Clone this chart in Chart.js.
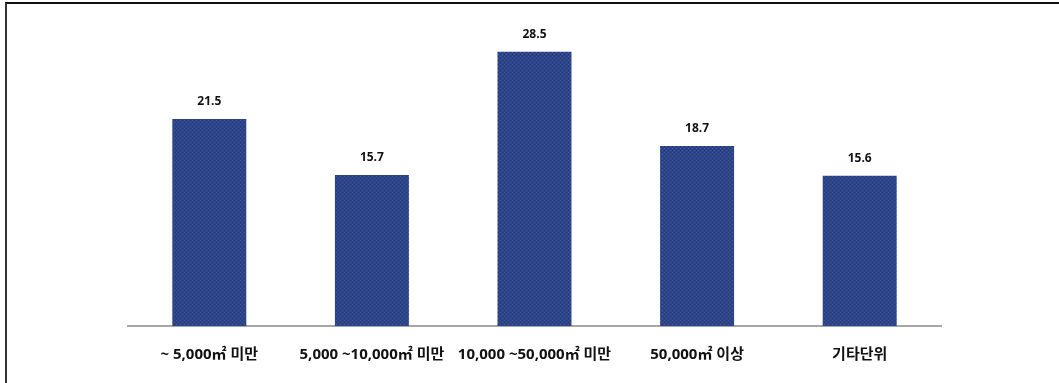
<!DOCTYPE html>
<html>
<head>
<meta charset="utf-8">
<script src="https://cdn.jsdelivr.net/npm/chart.js"></script>
<style>
  html, body { margin: 0; padding: 0; background: #fff; }
  body { width: 1059px; height: 383px; position: relative; overflow: hidden; }
  .frame {
    position: absolute; left: 5px; top: 2px; right: 0; bottom: 0;
    border-left: 2px solid #333; border-top: 2px solid #111;
  }
  #wrap { position: absolute; left: 0; top: 0; width: 1059px; height: 383px; }
</style>
</head>
<body>
<div class="frame"></div>
<div id="wrap"><canvas id="barChart" width="1059" height="383"></canvas></div>
<script>
// data
const categories = ['~ 5,000㎡ 미만', '5,000 ~10,000㎡ 미만', '10,000 ~50,000㎡ 미만', '50,000㎡ 이상', '기타단위'];
const shares = [21.5, 15.7, 28.5, 18.7, 15.6];

const FONT = "'Open Sans', 'Noto Sans CJK KR', sans-serif";

// small textured navy fill, like the original bars
function makePattern() {
    const c = document.createElement('canvas');
    c.width = 4; c.height = 4;
    const g = c.getContext('2d');
    g.fillStyle = '#2d4486';
    g.fillRect(0, 0, 4, 4);
    g.fillStyle = '#3b56a2';
    g.fillRect(0, 0, 1, 1);
    g.fillRect(2, 2, 1, 1);
    g.fillStyle = '#263b78';
    g.fillRect(2, 0, 1, 1);
    g.fillRect(0, 2, 1, 1);
    return g.createPattern(c, 'repeat');
}

const valueLabels = {
    id: 'valueLabels',
    afterDatasetsDraw(chart) {
        const ctx = chart.ctx;
        const meta = chart.getDatasetMeta(0);
        ctx.save();
        ctx.font = "bold 12px " + FONT;
        ctx.fillStyle = '#111';
        ctx.textAlign = 'center';
        ctx.textBaseline = 'middle';
        meta.data.forEach((bar, i) => {
            ctx.fillText(shares[i].toFixed(1), bar.x, bar.y - 17);
        });
        ctx.restore();
    }
};

const ctx = document.getElementById('barChart').getContext('2d');
new Chart(ctx, {
    type: 'bar',
    data: {
        labels: categories,
        datasets: [{
            data: shares,
            backgroundColor: makePattern(),
            borderWidth: 0,
            categoryPercentage: 1,
            barPercentage: 0.455
        }]
    },
    options: {
        responsive: false,
        animation: false,
        layout: { padding: { left: 128, right: 118, top: 18, bottom: 0 } },
        scales: {
            x: {
                grid: { display: false, drawTicks: false },
                border: { display: true, color: '#a6a6a6', width: 2 },
                afterFit(scale) { scale.height = 57; },
                ticks: {
                    color: '#111',
                    padding: 20,
                    maxRotation: 0,
                    autoSkip: false,
                    font: { family: FONT, size: 15, weight: 'bold' }
                }
            },
            y: {
                display: false,
                min: 0,
                max: 32
            }
        },
        plugins: {
            legend: { display: false },
            tooltip: { enabled: false }
        }
    },
    plugins: [valueLabels]
});
</script>
</body>
</html>
